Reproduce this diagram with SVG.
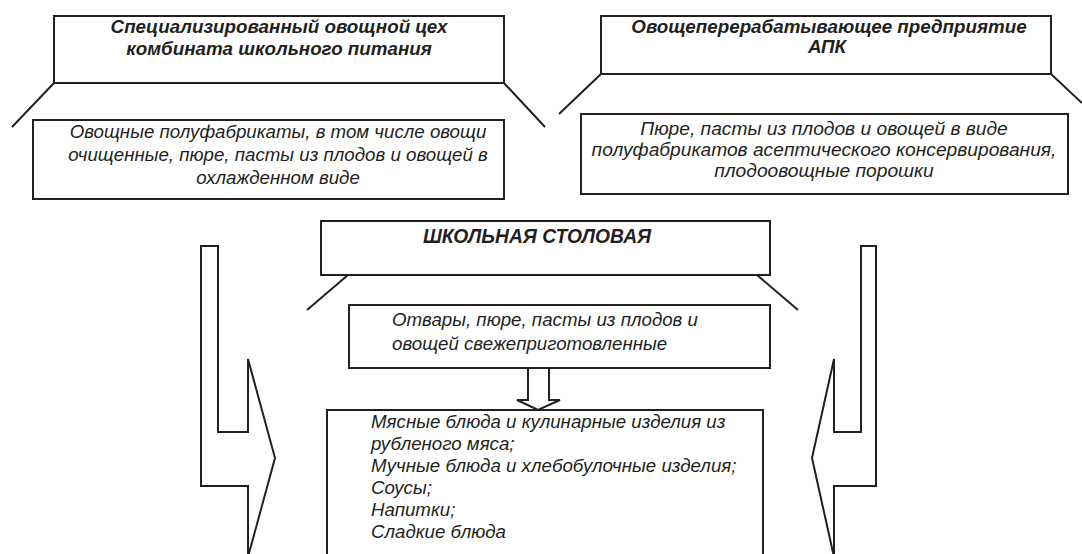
<svg xmlns="http://www.w3.org/2000/svg" width="1082" height="554" viewBox="0 0 1082 554">
<style>
.b{fill:#fff;stroke:#231f20;stroke-width:2}
.l{fill:none;stroke:#231f20;stroke-width:2}
.t{font-family:"Liberation Sans",Arial,sans-serif;font-style:italic;fill:#231f20;font-size:18.7px}
.h{font-family:"Liberation Sans",Arial,sans-serif;font-style:italic;font-weight:bold;fill:#231f20;font-size:18.8px}
</style>
<rect width="1082" height="554" fill="#fff"/>
<g id="connectors">
<path class="l" d="M54,83 L12,127 M504,83 L545,127"/>
<path class="l" d="M601,74 L559,114 M1051,74 L1082,103"/>
<path class="l" d="M348,275 L307,310 M757,275 L798,310"/>
<polygon id="arrow-down" class="b" points="528,368 549,368 549,400 560,400 538,410 517,400 528,400"/>
<polygon id="arrow-left" class="b" points="201,246 218,246 218,432 248,432 248,359 275,458 248,557 248,486 201,486"/>
<polygon id="arrow-right" class="b" points="861,246 876,246 876,486 834,486 834,557 812,458 834,359 834,432 861,432"/>
</g>
<g id="node-a">
<rect class="b" x="54" y="16" width="450" height="67"/>
<text class="h" text-anchor="middle" x="279" y="33">Специализированный овощной цех</text>
<text class="h" text-anchor="middle" x="279" y="55">комбината школьного питания</text>
</g>
<g id="node-b">
<rect class="b" x="33" y="120" width="471" height="79"/>
<text class="t" text-anchor="middle" x="278" y="138">Овощные полуфабрикаты, в том числе овощи</text>
<text class="t" text-anchor="middle" x="278" y="161">очищенные, пюре, пасты из плодов и овощей в</text>
<text class="t" text-anchor="middle" x="278" y="184">охлажденном виде</text>
</g>
<g id="node-c">
<rect class="b" x="601" y="16" width="450" height="58"/>
<text class="h" text-anchor="middle" x="829" y="33">Овощеперерабатывающее предприятие</text>
<text class="h" text-anchor="middle" x="827" y="53">АПК</text>
</g>
<g id="node-d">
<rect class="b" x="581" y="114" width="487" height="80"/>
<text class="t" text-anchor="middle" x="824" y="135" style="font-size:19.2px">Пюре, пасты из плодов и овощей в виде</text>
<text class="t" text-anchor="middle" x="824" y="156" style="font-size:19.2px">полуфабрикатов асептического консервирования,</text>
<text class="t" text-anchor="middle" x="824" y="177" style="font-size:19.2px">плодоовощные порошки</text>
</g>
<g id="node-e">
<rect class="b" x="321" y="221" width="449" height="54"/>
<text class="h" text-anchor="middle" x="537" y="243" style="font-size:19.3px">ШКОЛЬНАЯ СТОЛОВАЯ</text>
</g>
<g id="node-f">
<rect class="b" x="349" y="305" width="421" height="63"/>
<text class="t" x="392" y="326">Отвары, пюре, пасты из плодов и</text>
<text class="t" x="392" y="350">овощей свежеприготовленные</text>
</g>
<g id="node-g">
<rect class="b" x="327" y="410" width="436" height="160"/>
<text class="t" x="371" y="428">Мясные блюда и кулинарные изделия из</text>
<text class="t" x="371" y="450">рубленого мяса;</text>
<text class="t" x="371" y="472">Мучные блюда и хлебобулочные изделия;</text>
<text class="t" x="371" y="494">Соусы;</text>
<text class="t" x="371" y="516">Напитки;</text>
<text class="t" x="371" y="538">Сладкие блюда</text>
</g>
</svg>
